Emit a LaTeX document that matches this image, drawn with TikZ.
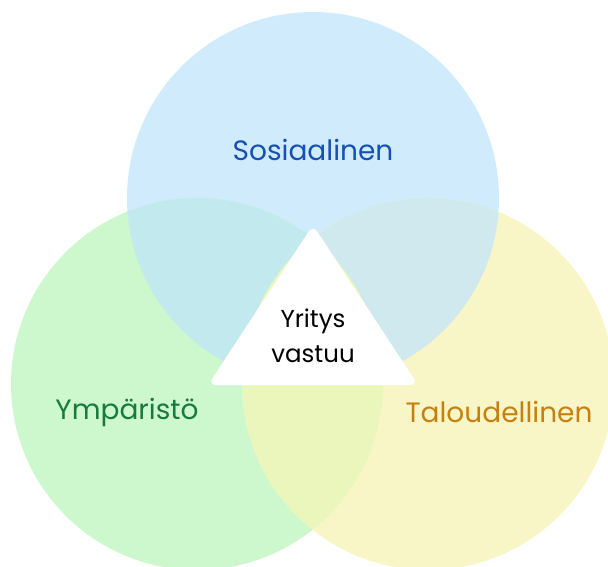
\documentclass[tikz,border=0pt]{standalone}
\usepackage{fontspec}
\setmainfont{Poppins}
\usepackage{tikz}
\usetikzlibrary{positioning}
\definecolor{socblue}{HTML}{D0EBFC}
\definecolor{envgreen}{HTML}{CDF7CD}
\definecolor{ecoyellow}{HTML}{F8F6C6}
\definecolor{socenv}{HTML}{C2E9EE}
\definecolor{soceco}{HTML}{D0E9EE}
\definecolor{enveco}{HTML}{EAF6BC}
\definecolor{soctext}{HTML}{1650B4}
\definecolor{envtext}{HTML}{187A3C}
\definecolor{ecotext}{HTML}{C77F0E}
\tikzset{
  lab/.style={font=\fontsize{28}{32}\selectfont,inner sep=0pt},
  core/.style={font=\fontsize{24.5}{35}\selectfont,align=center,inner sep=0pt,text=black},
}

\begin{document}
\begin{tikzpicture}[x=1pt,y=-1pt]
  \path[use as bounding box] (0,0) rectangle (608,567);
  \clip (0,0) rectangle (608,567);
  % the three circles
  \fill[socblue] (313,198) circle (186);
  \fill[envgreen] (197,384) circle (186);
  \fill[ecoyellow] (428,384) circle (186);
  % overlaps
  \begin{scope}
    \clip (313,198) circle (186);
    \fill[socenv] (197,384) circle (186);
    \fill[soceco] (428,384) circle (186);
  \end{scope}
  \begin{scope}
    \clip (197,384) circle (186);
    \fill[enveco] (428,384) circle (186);
  \end{scope}
  % centre triangle
  \fill[white,rounded corners=8pt] (313,225) -- (418,385) -- (208,385) -- cycle;

  \node[lab,text=soctext] (soc) at (313,150) {Sosiaalinen};
  \node[lab,text=envtext] (env) at (127,412) {Ympäristö};
  \node[lab,text=ecotext] (eco) at (499,412) {Taloudellinen};
  \node[core] (resp) at (313,336) {Yritys\\vastuu};
\end{tikzpicture}
\end{document}
